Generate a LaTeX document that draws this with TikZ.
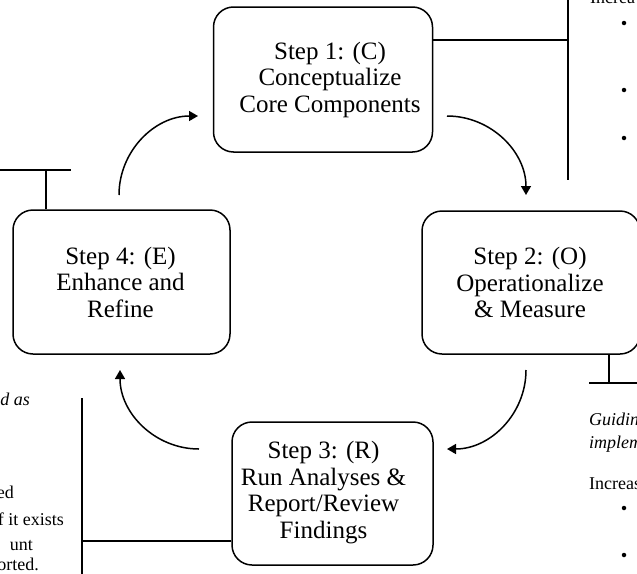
\documentclass[tikz,border=0pt]{standalone}
\usepackage{fontspec}
\setmainfont{Liberation Serif}
\usetikzlibrary{arrows.meta}
\begin{document}
\begin{tikzpicture}[x=1pt,y=-1pt,
  stepbox/.style={draw,line width=1.5pt,rounded corners=20pt,inner sep=0pt},
  steptext/.style={align=center,inner sep=0pt,font=\fontsize{25}{26.5}\selectfont},
  side/.style={inner sep=0pt,font=\fontsize{18}{22}\selectfont},
  sideit/.style={side,font=\fontsize{18}{22}\selectfont\itshape},
  link/.style={line width=1.5pt},
  flow/.style={line width=1.5pt,-{Triangle[length=9pt,width=10pt]}},
  dot/.style={circle,fill,inner sep=0pt,minimum size=4.5pt}]
\useasboundingbox (0,0) rectangle (637,573);
\clip (0,0) rectangle (637,573);

% step boxes
\node[stepbox,minimum width=219pt,minimum height=145pt] (b1) at (323,79.5) {};
\node[stepbox,minimum width=218pt,minimum height=143pt] (b2) at (531,282.5) {};
\node[stepbox,minimum width=201pt,minimum height=143pt] (b3) at (332.5,493.5) {};
\node[stepbox,minimum width=217pt,minimum height=144pt] (b4) at (121.5,282) {};

\node[steptext] (t1) at ([xshift=7pt]b1.center) {Step 1: (C)\\Conceptualize\\Core Components};
\node[steptext] (t2) at ([xshift=-1pt]b2.center) {Step 2: (O)\\Operationalize\\\& Measure};
\node[steptext] (t3) at ([xshift=-9pt,yshift=1pt]b3.center) {Step 3: (R)\\Run Analyses \&\\Report/Review\\Findings};
\node[steptext] (t4) at ([xshift=-1pt]b4.center) {Step 4: (E)\\Enhance and\\Refine};

% cycle arrows
\coordinate (s41) at (119,195);
\coordinate (s12) at (447,116);
\coordinate (s23) at (526,370);
\coordinate (s34) at (199,449);
\draw[flow] (s41) arc[start angle=180,end angle=270,radius=79];
\draw[flow] (s12) arc[start angle=270,end angle=360,radius=79];
\draw[flow] (s23) arc[start angle=0,end angle=90,radius=79];
\draw[flow] (s34) arc[start angle=90,end angle=180,radius=79];

% brackets to annotations
\coordinate (j1) at (568,40);
\coordinate (j1a) at (568,-5);
\coordinate (j1b) at (568,180);
\draw[link] (b1.east |- j1) -- (j1);
\draw[link] (j1a) -- (j1b);

\coordinate (j2) at (609,383);
\coordinate (j2a) at (589,383);
\coordinate (j2b) at (645,383);
\draw[link] (b2.south -| j2) -- (j2);
\draw[link] (j2a) -- (j2b);

\coordinate (j4) at (46,170);
\coordinate (j4a) at (-5,170);
\coordinate (j4b) at (71,170);
\draw[link] (b4.north -| j4) -- (j4);
\draw[link] (j4a) -- (j4b);

\coordinate (j3) at (82,541);
\coordinate (j3a) at (82,398);
\coordinate (j3b) at (82,580);
\draw[link] (b3.west |- j3) -- (j3);
\draw[link] (j3a) -- (j3b);

% annotation fragments, right
\node[side,anchor=base west] (r0) at (590,3) {Increa};
\node[dot] (d1) at (624,23) {};
\node[dot] (d2) at (624,90) {};
\node[dot] (d3) at (624,138) {};
\node[sideit,anchor=base west] (r1) at (589,425) {Guidin};
\node[sideit,anchor=base west] (r2) at (589,448) {implem};
\node[side,anchor=base west] (r3) at (589,489) {Increas};
\node[dot] (d4) at (624,508) {};
\node[dot] (d5) at (624,555) {};

% annotation fragments, left
\node[sideit,anchor=base east] (l0) at (30,405) {ed as};
\node[side,anchor=base east] (l1) at (14,498) {ed};
\node[side,anchor=base east] (l2) at (64,525) {f it exists};
\node[side,anchor=base east] (l3) at (33,550) {unt};
\node[side,anchor=base east] (l4) at (39,570) {orted.};
\end{tikzpicture}
\end{document}
